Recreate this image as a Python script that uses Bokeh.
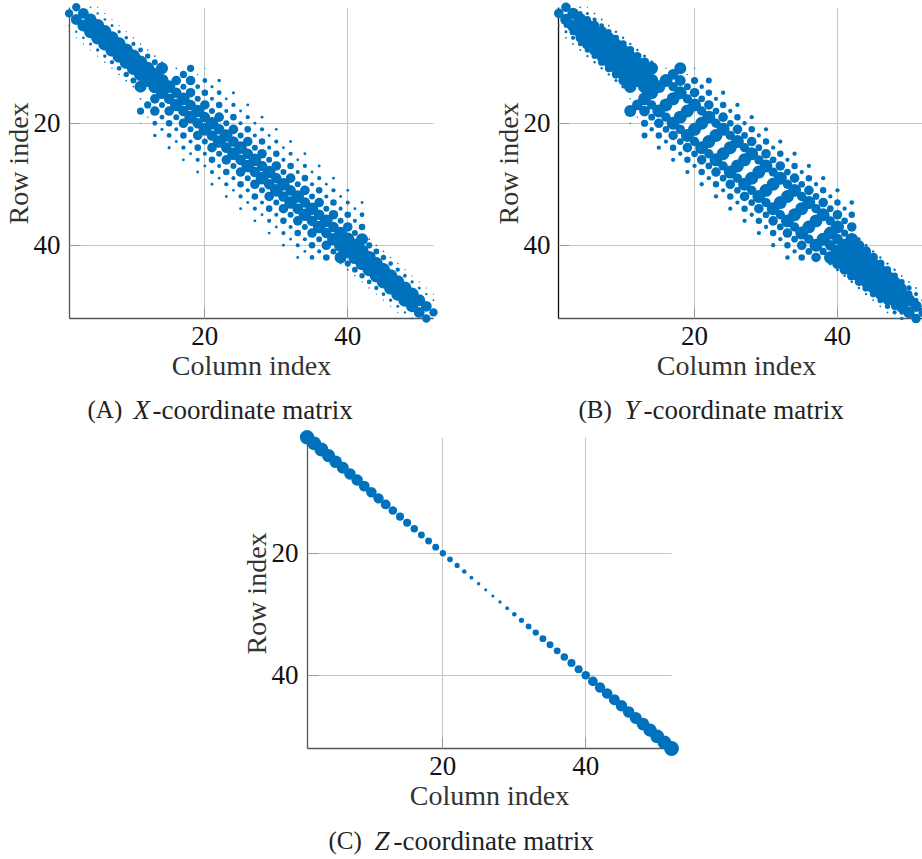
from bokeh.plotting import figure
from bokeh.layouts import column, row
from bokeh.models import ColumnDataSource, FixedTicker, Label, LinearAxis, Range1d
from bokeh.embed import file_html
from bokeh.resources import INLINE

# Sparsity patterns: magnitude per band, index = smaller of (row, column), starting at 1.
# A matrix is symmetric, so each band gives (i, i+d) and (i+d, i).
X_D1 = [70, 90, 100, 110, 110, 110, 110, 110, 110, 110,
        110, 110, 110, 105, 88, 105, 88, 105, 88, 105,
        88, 105, 88, 105, 88, 105, 88, 105, 88, 105,
        88, 105, 88, 105, 88, 105, 88, 105, 110, 110,
        110, 110, 110, 110, 110, 110, 110, 110, 100, 90, 70]
X_D3 = [15, 20, 22, 25, 28, 30, 35, 40, 45, 50,
        100, 0, 80, 50, 80, 50, 80, 50, 80, 50,
        80, 50, 80, 50, 80, 50, 80, 50, 80, 50,
        80, 50, 80, 50, 80, 50, 80, 50, 100, 52,
        48, 45, 40, 36, 32, 28, 25, 20, 15]
X_D4 = [10, 10, 10, 10, 10, 12, 12, 13, 15, 15] + [0] * 28 + [15, 15, 13, 12, 12, 10, 10, 10, 10, 10]
X_D5 = [0] * 10 + [15, 60, 80, 40, 55, 34, 55, 34, 55, 34,
                   55, 34, 55, 34, 55, 34, 55, 34, 55, 34,
                   55, 34, 55, 34, 55, 34, 55]
X_D7 = [0] * 10 + [60, 12, 40, 26, 40, 24, 36, 24, 35, 24,
                   35, 24, 35, 24, 35, 24, 35, 24, 35, 24,
                   35, 24, 35, 24, 40]
X_D9 = [0] * 10 + [10, 0, 30, 0, 26, 0, 24, 0, 24, 0,
                   24, 0, 24, 0, 24, 0, 24, 0, 24, 0,
                   24, 0, 24]
X_BANDS = {1: X_D1, 3: X_D3, 4: X_D4, 5: X_D5, 7: X_D7, 9: X_D9}

Y_D1 = [80, 95, 105, 110, 110, 110, 110, 110, 110, 110,
        110, 110, 110, 108, 0, 108, 0, 108, 0, 108,
        0, 108, 0, 108, 0, 108, 0, 108, 0, 108,
        0, 108, 0, 108, 0, 108, 0, 108, 90, 110,
        110, 110, 110, 110, 110, 110, 110, 110, 105, 95, 80]
Y_D2 = [0, 40, 60, 80, 95, 95, 95, 95, 95, 95, 90] + [0] * 28 + [90, 95, 95, 95, 95, 95, 95, 80, 60, 40, 0]
Y_D3 = [15, 25, 35, 40, 45, 50, 60, 65, 70, 80,
        105, 0, 108, 78, 108, 78, 108, 78, 108, 78,
        108, 78, 108, 78, 108, 78, 108, 78, 108, 78,
        108, 78, 108, 78, 108, 78, 108, 60, 105, 90,
        85, 80, 70, 60, 55, 50, 45, 35, 30]
Y_D4 = [10, 15, 15, 15, 20, 20, 20, 20, 25, 30] + [0] * 28 + [30, 25, 20, 20, 20, 20, 15, 15, 15, 10]
Y_D5 = [0] * 10 + [12, 90, 90, 58, 80, 56, 80, 56, 80, 56,
                   80, 56, 80, 56, 80, 56, 80, 56, 80, 56,
                   80, 56, 80, 56, 80, 56, 80]
Y_D7 = [0] * 10 + [100, 12, 60, 38, 54, 36, 54, 36, 54, 36,
                   54, 36, 54, 36, 54, 36, 54, 36, 54, 36,
                   54, 36, 54, 36, 54]
Y_D9 = [0] * 10 + [12, 0, 50, 0, 36, 0, 36, 0, 36, 0,
                   36, 0, 36, 0, 36, 0, 36, 0, 36, 0,
                   36, 0, 38]
Y_BANDS = {1: Y_D1, 2: Y_D2, 3: Y_D3, 4: Y_D4, 5: Y_D5, 7: Y_D7, 9: Y_D9}

Z_D0 = [125, 120, 120, 115, 110, 105, 100, 100, 95, 92,
        90, 85, 75, 70, 70, 65, 60, 60, 60, 55,
        50, 45, 40, 34, 30, 27, 27, 30, 34, 40,
        45, 50, 55, 60, 60, 60, 65, 70, 70, 75,
        85, 90, 92, 95, 100, 100, 105, 110, 115, 120,
        120, 130]
Z_BANDS = {0: Z_D0}

TICKS = [20, 40]
X_LABEL = "Column index"
Y_LABEL = "Row index"
CAPTIONS = [("(A)", "X", "-coordinate matrix"),
            ("(B)", "Y", "-coordinate matrix"),
            ("(C)", "Z", "-coordinate matrix")]

# Styling / layout
BLUE = "#0072BD"
SERIF = "Liberation Serif"
PX_PER_COL = 364.4 / 51
PX_PER_ROW = 311.2 / 51
FRAME_H = 326
LEFT = 70
BOTTOM = 75


def entries(bands, scale):
    xs, ys, sz = [], [], []
    for d, band in bands.items():
        for i, v in enumerate(band, start=1):
            if v <= 0:
                continue
            xs.append(i + d); ys.append(i); sz.append(v * scale)
            if d:
                xs.append(i); ys.append(i + d); sz.append(v * scale)
    return ColumnDataSource(dict(col=xs, row=ys, size=sz))


def panel(bands, scale, frame_w, pad_left, right, margin, left_axis):
    x0 = 1 - pad_left / PX_PER_COL
    x1 = x0 + frame_w / PX_PER_COL
    y0 = 1 - 6.8 / PX_PER_ROW
    y1 = y0 + FRAME_H / PX_PER_ROW
    p = figure(frame_width=frame_w, frame_height=FRAME_H,
               x_range=Range1d(x0, x1), y_range=Range1d(y1, y0),
               min_border_left=LEFT, min_border_right=right,
               min_border_top=0, min_border_bottom=BOTTOM,
               output_backend="svg", toolbar_location=None,
               outline_line_color=None, background_fill_color="white",
               border_fill_color=None, margin=margin)
    # outer axes: numbers and titles only
    for ax, label in ((p.xaxis[0], X_LABEL), (p.yaxis[0], Y_LABEL)):
        ax.ticker = FixedTicker(ticks=TICKS)
        ax.bounds = (1, 52)
        ax.axis_label = label
        ax.axis_label_text_font = SERIF
        ax.axis_label_text_font_size = "28px"
        ax.axis_label_text_font_style = "normal"
        ax.axis_label_text_color = "#333333"
        ax.major_label_text_font = SERIF
        ax.major_label_text_font_size = "27px"
        ax.major_label_text_color = "#111111"
        ax.axis_line_color = None
        ax.major_tick_line_color = None
        ax.minor_tick_line_color = None
        ax.major_tick_in = 0
        ax.major_tick_out = 0
        ax.axis_label_standoff = 2
    p.xaxis[0].major_label_standoff = 0
    p.yaxis[0].major_label_standoff = 0
    p.yaxis[0].axis_label_standoff = -3
    p.yaxis[0].major_label_orientation = "horizontal"
    # inner axes: line and inward ticks at the matrix edge
    for side, loc, colr in (("below", 52, "#555555"), ("left", 1, left_axis)):
        ax = LinearAxis(ticker=FixedTicker(ticks=TICKS), bounds=(1, 52), fixed_location=loc,
                        axis_line_color=colr, axis_line_width=1.3,
                        major_tick_line_color="#999999", major_tick_line_width=1,
                        major_tick_in=11, major_tick_out=0, minor_tick_line_color=None,
                        major_label_text_font_size="0px", major_label_text_color=None,
                        major_label_standoff=0)
        p.add_layout(ax, side)
    for g in (p.xgrid[0], p.ygrid[0]):
        g.grid_line_color = "#c6c6c6"
        g.grid_line_width = 1
        g.cross_bounds = (1, 52)
    p.scatter("col", "row", size="size", marker="circle", source=entries(bands, scale),
              fill_color=BLUE, line_color=None, level="overlay")
    return p


def strip(height, base, items):
    """Caption band: labels placed in its frame; items = (caption, left px)."""
    s = figure(frame_width=922, frame_height=height, x_axis_type=None, y_axis_type=None,
               x_range=Range1d(0, 922), y_range=Range1d(0, height),
               min_border=0, output_backend="svg", toolbar_location=None,
               outline_line_color=None, background_fill_color=None,
               border_fill_color=None, margin=(-10, 0, 0, 0))
    s.xgrid.visible = False
    s.ygrid.visible = False
    offs = (0, 46, 65)
    for caption, left in items:
        for k, (txt, off) in enumerate(zip(caption, offs)):
            s.add_layout(Label(x=left + off, y=base, x_units="screen", y_units="screen",
                               text=txt, text_font=SERIF,
                               text_font_style="italic" if k == 1 else "normal",
                               text_font_size="25px" if k == 0 else "27px",
                               text_color="#222222", text_baseline="alphabetic"))
    return s


pA = panel(X_BANDS, 0.12, 382, 8.6, 38, (0, 0, 0, -10), "#555555")
pB = panel(Y_BANDS, 0.12, 372, 8.3, 0, (0, 0, 0, 0), "#111111")
pC = panel(Z_BANDS, 0.115, 382, 8.6, 0, (0, 0, 0, 228), "#555555")
s1 = strip(39, 21, [(CAPTIONS[0], 17), (CAPTIONS[1], 508)])
s2 = strip(38, 19, [(CAPTIONS[2], 258)])

layout = column(row(pA, pB, margin=0), s1, pC, s2, margin=0)
open("out.html", "w").write(file_html(layout, INLINE))
